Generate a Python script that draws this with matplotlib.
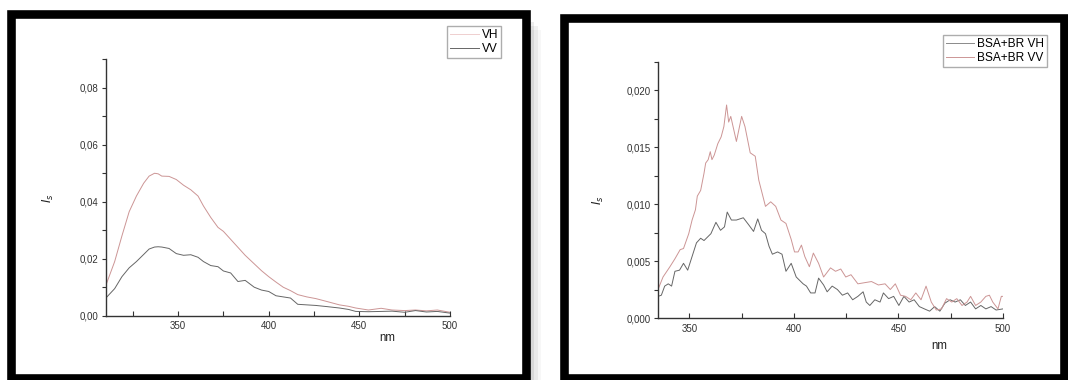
import matplotlib
matplotlib.use("Agg")
import matplotlib.pyplot as plt
from matplotlib.patches import Rectangle
from matplotlib.lines import Line2D
from matplotlib.ticker import MultipleLocator, FuncFormatter
import numpy as np

plt.rcParams['font.family'] = ['Liberation Sans', 'DejaVu Sans']

# free protein: scattered intensity, VH and VV polarisation
nm_free = [310, 315, 319, 323, 327, 331, 334, 337, 339, 341, 345, 349, 353, 357,
           361, 364, 368, 372, 375, 379, 383, 387, 392, 396, 400, 404, 408, 412,
           416, 421, 426, 432, 439, 444, 448, 455, 462, 468, 475, 481, 487, 493, 500]
vh_free = [0.0104, 0.0190, 0.0280, 0.0365, 0.0420, 0.0465, 0.0490, 0.0500, 0.0498, 0.0490,
           0.0489, 0.0478, 0.0458, 0.0442, 0.0420, 0.0385, 0.0345, 0.0310, 0.0296, 0.0268,
           0.0240, 0.0212, 0.0182, 0.0158, 0.0137, 0.0118, 0.0100, 0.0088, 0.0074, 0.0066,
           0.0060, 0.0050, 0.0038, 0.0033, 0.0027, 0.0020, 0.0026, 0.0020, 0.0018, 0.0020,
           0.0017, 0.0020, 0.0012]
vv_free = [0.0061, 0.0095, 0.0137, 0.0168, 0.0190, 0.0215, 0.0234, 0.0241, 0.0242, 0.0241,
           0.0236, 0.0218, 0.0212, 0.0214, 0.0205, 0.0190, 0.0176, 0.0172, 0.0157, 0.0150,
           0.0120, 0.0124, 0.0100, 0.0090, 0.0085, 0.0070, 0.0066, 0.0062, 0.0040, 0.0038,
           0.0036, 0.0032, 0.0027, 0.0022, 0.0015, 0.0014, 0.0015, 0.0016, 0.0012, 0.0018,
           0.0013, 0.0015, 0.0009]

# BSA + BR complex
nm_vv = [335.0, 337.4, 340.7, 343.1, 345.6, 347.2, 349.7, 351.3, 352.9, 353.8, 355.4, 357.0,
         357.8, 359.0, 360.0, 360.8, 361.9, 363.6, 365.2, 366.5, 367.8, 368.8, 369.8, 372.5,
         375.0, 376.6, 379.1, 381.5, 383.2, 386.4, 388.9, 391.3, 393.8, 396.2, 398.7, 400.3,
         402.0, 403.6, 405.2, 407.4, 409.3, 411.8, 414.2, 417.5, 419.9, 422.4, 424.8, 427.3,
         430.6, 433.8, 437.1, 440.4, 443.6, 446.1, 448.5, 451.0, 453.4, 455.9, 458.3, 460.8,
         463.2, 465.7, 468.1, 470.6, 473.0, 475.5, 477.9, 480.4, 482.8, 484.5, 486.9, 489.4,
         491.8, 493.5, 495.1, 497.6, 499.2, 500.0]
vv_bsa = [0.0025, 0.0036, 0.0045, 0.0052, 0.0060, 0.0061, 0.0074, 0.0086, 0.0095, 0.0107,
          0.0112, 0.0127, 0.0136, 0.0139, 0.0146, 0.0139, 0.0143, 0.0153, 0.0159, 0.0168,
          0.0187, 0.0172, 0.0177, 0.0155, 0.0177, 0.0168, 0.0145, 0.0142, 0.0121, 0.0098,
          0.0102, 0.0098, 0.0086, 0.0083, 0.0069, 0.0058, 0.0058, 0.0064, 0.0054, 0.0045,
          0.0057, 0.0048, 0.0036, 0.0044, 0.0041, 0.0043, 0.0036, 0.0038, 0.0030, 0.0031,
          0.0032, 0.0029, 0.0030, 0.0025, 0.0030, 0.0020, 0.0019, 0.0016, 0.0022, 0.0016,
          0.0028, 0.0014, 0.0007, 0.0008, 0.0017, 0.0014, 0.0017, 0.0011, 0.0014, 0.0019,
          0.0011, 0.0014, 0.0019, 0.0020, 0.0014, 0.0008, 0.0019, 0.0019]

nm_vh = [335.0, 336.6, 338.2, 339.9, 341.5, 343.1, 345.3, 347.2, 349.2, 351.3, 353.4, 355.4,
         357.0, 360.3, 362.7, 364.9, 366.8, 368.1, 370.1, 372.5, 375.8, 378.3, 380.7, 382.7,
         384.5, 386.4, 388.1, 389.7, 392.2, 394.3, 396.2, 398.7, 401.1, 404.4, 406.0, 408.0,
         410.1, 411.8, 414.2, 415.9, 418.3, 420.8, 423.2, 425.7, 428.1, 430.6, 433.1, 434.6,
         436.3, 438.7, 441.2, 442.8, 445.3, 447.7, 450.2, 452.6, 455.1, 457.5, 460.0, 462.4,
         464.9, 467.3, 469.8, 472.2, 474.7, 477.1, 479.6, 482.0, 484.5, 486.9, 489.4, 491.8,
         494.3, 496.7, 500.0]
vh_bsa = [0.0019, 0.0020, 0.0028, 0.0030, 0.0028, 0.0041, 0.0042, 0.0048, 0.0042, 0.0054,
          0.0066, 0.0070, 0.0068, 0.0074, 0.0084, 0.0077, 0.0080, 0.0093, 0.0086, 0.0086,
          0.0088, 0.0082, 0.0076, 0.0087, 0.0077, 0.0074, 0.0063, 0.0056, 0.0058, 0.0056,
          0.0041, 0.0048, 0.0036, 0.0030, 0.0028, 0.0022, 0.0022, 0.0035, 0.0029, 0.0023,
          0.0028, 0.0025, 0.0020, 0.0022, 0.0016, 0.0019, 0.0023, 0.0014, 0.0011, 0.0016,
          0.0014, 0.0022, 0.0017, 0.0019, 0.0011, 0.0019, 0.0014, 0.0016, 0.0010, 0.0008,
          0.0006, 0.0010, 0.0006, 0.0013, 0.0016, 0.0014, 0.0016, 0.0011, 0.0014, 0.0008,
          0.0011, 0.0008, 0.0010, 0.0007, 0.0008]

red = "#cc9595"
dark = "#666666"

fig = plt.figure(figsize=(10.68, 3.8), dpi=100)
W, H = 1068.0, 380.0


def px(x0, y0, x1, y1):
    # pixel box (top-left origin) -> figure fraction rect
    return [x0 / W, 1 - y1 / H, (x1 - x0) / W, (y1 - y0) / H]


def frame(x0, y0, x1, y1):
    # soft shadow then thick black border
    for i, a in enumerate([0.10, 0.07, 0.05, 0.03]):
        off = 4 + i * 4
        fig.add_artist(Rectangle(((x0 + off) / W, 1 - (y1 + off) / H),
                                 (x1 - x0) / W, (y1 - y0) / H,
                                 transform=fig.transFigure, facecolor="black",
                                 edgecolor="none", alpha=a, zorder=0))
    fig.add_artist(Rectangle((x0 / W, 1 - y1 / H), (x1 - x0) / W, (y1 - y0) / H,
                             transform=fig.transFigure, facecolor="white",
                             edgecolor="none", zorder=0.5))
    fig.add_artist(Rectangle((x0 / W, 1 - y1 / H), (x1 - x0) / W, (y1 - y0) / H,
                             transform=fig.transFigure, fill=False,
                             edgecolor="black", linewidth=6.2, zorder=5))


frame(11, 14, 525.5, 378)
frame(564, 17.5, 1064, 378)


def style_axes(ax, ystep, yminor, fmt):
    ax.set_zorder(2)
    ax.set_facecolor("none")
    ax.spines["top"].set_visible(False)
    ax.spines["right"].set_visible(False)
    for s in ["left", "bottom"]:
        ax.spines[s].set_linewidth(1.0)
        ax.spines[s].set_color("#333333")
    ax.xaxis.set_major_locator(MultipleLocator(50))
    ax.xaxis.set_minor_locator(MultipleLocator(25))
    ax.yaxis.set_major_locator(MultipleLocator(ystep))
    ax.yaxis.set_minor_locator(MultipleLocator(yminor))
    ax.yaxis.set_major_formatter(FuncFormatter(lambda v, p: (fmt % v).replace(".", ",")))
    ax.tick_params(axis="x", which="both", direction="in", length=3.5, width=0.8,
                   labelsize=7, pad=4, colors="#333333")
    ax.tick_params(axis="y", which="both", direction="out", length=3, width=0.8,
                   labelsize=7, pad=2, colors="#333333")


# left panel
ax1 = fig.add_axes(px(105.6, 59.3, 450, 315.7))
ax1.plot(nm_free, vh_free, color=red, lw=0.7)
ax1.plot(nm_free, vv_free, color=dark, lw=0.7)
ax1.set_xlim(310, 500)
ax1.set_ylim(0, 0.09)
style_axes(ax1, 0.02, 0.01, "%.2f")
ax1.set_xlabel("nm", fontsize=8.3, color="#222222")
ax1.xaxis.set_label_coords(0.817, -0.065)
ax1.set_ylabel(r"$I_s$", fontsize=8.5, color="#222222")
ax1.yaxis.set_label_coords(-0.145, 0.46)
h1 = [Line2D([], [], color="#efcfcf", lw=0.7), Line2D([], [], color=dark, lw=0.7)]
fig.legend(h1, ["VH", "VV"], loc="upper right", bbox_to_anchor=(501 / W, 1 - 26 / H),
           fontsize=8.6, frameon=True, fancybox=False, edgecolor="#999999",
           handlelength=2.4, handletextpad=0.2, borderpad=0.25, labelspacing=0.2,
           borderaxespad=0)

# right panel
ax2 = fig.add_axes(px(658, 61.7, 1003, 318))
ax2.plot(nm_vh, vh_bsa, color=dark, lw=0.7)
ax2.plot(nm_vv, vv_bsa, color=red, lw=0.7)
ax2.set_xlim(335, 500)
ax2.set_ylim(0, 0.0225)
style_axes(ax2, 0.005, 0.0025, "%.3f")
ax2.set_xlabel("nm", fontsize=8.3, color="#222222")
ax2.xaxis.set_label_coords(0.815, -0.085)
ax2.set_ylabel(r"$I_s$", fontsize=8.5, color="#222222")
ax2.yaxis.set_label_coords(-0.15, 0.46)
h2 = [Line2D([], [], color="#8a8a8a", lw=0.7), Line2D([], [], color=red, lw=0.7)]
fig.legend(h2, ["BSA+BR VH", "BSA+BR VV"], loc="upper right",
           bbox_to_anchor=(1046.6 / W, 1 - 35 / H), fontsize=8.6, frameon=True,
           fancybox=False, edgecolor="#999999", handlelength=2.4, handletextpad=0.2,
           borderpad=0.25, labelspacing=0.2, borderaxespad=0)

fig.savefig("out.png", dpi=100)
